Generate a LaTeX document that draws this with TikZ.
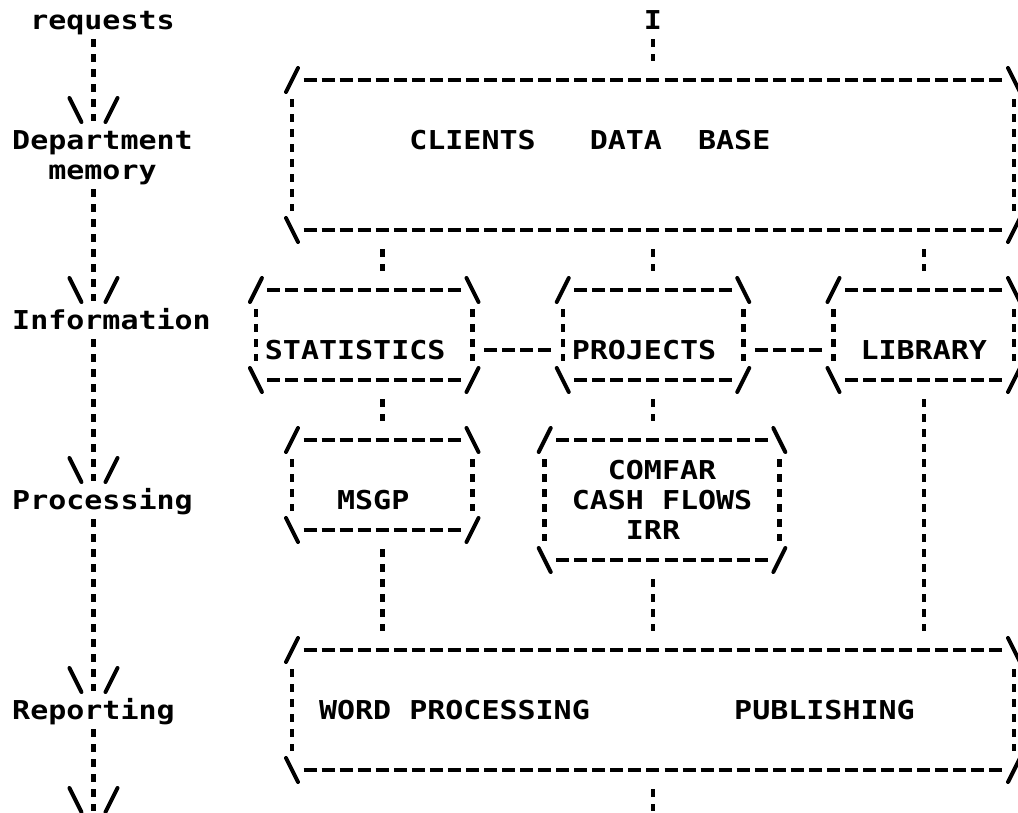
\documentclass[tikz,border=0pt]{standalone}
\usepackage{fontspec}
\newfontfamily\dotfont{DejaVu Sans Mono}[FakeStretch=1.1531]
\usetikzlibrary{calc}

% One character cell is 18.05pt wide and one printed line is 30pt high;
% (column, line) coordinates address cell centres, lines counted downwards.
\tikzset{
  ink/.style={draw=black},
  colonrun/.style={ink, line width=4.5pt, dash pattern=on 7.5pt off 7.5pt,
    shorten <=19pt, shorten >=19pt},
  dashrun/.style={ink, line width=3.8pt, dash pattern=on 13pt off 5.05pt,
    shorten <=11.5pt, shorten >=11.5pt},
  stroke/.style={ink, line width=4pt, line cap=round},
  txt/.style={font={\dotfont\bfseries\fontsize{26pt}{30pt}\selectfont},
    inner sep=0pt, text height=19pt, text depth=0pt, anchor=center},
  frame/.style 2 args={shape=rectangle, inner sep=0pt, outer sep=0pt,
    minimum width={#1*18.05pt}, minimum height={#2*30pt}},
  fwd/.pic={\draw[stroke] (-6pt,-12pt) -- (6pt,12pt);},
  bwd/.pic={\draw[stroke] (-6pt,12pt) -- (6pt,-12pt);},
  vhead/.pic={\draw[stroke] (-24.05pt,12pt) -- (-12.05pt,-12pt);
              \draw[stroke] (12.05pt,-12pt) -- (24.05pt,12pt);},
}

% dashed top and bottom, dotted sides, slanted corners
\newcommand\drawframe[1]{%
  \draw[dashrun] (#1.north west) -- (#1.north east);
  \draw[dashrun] (#1.south west) -- (#1.south east);
  \draw[colonrun] (#1.north west) -- (#1.south west);
  \draw[colonrun] (#1.north east) -- (#1.south east);
  \pic at (#1.north west) {fwd};
  \pic at (#1.north east) {bwd};
  \pic at (#1.south west) {bwd};
  \pic at (#1.south east) {fwd};
}

\begin{document}
\begin{tikzpicture}[x=18.05pt, y=-30pt]
\useasboundingbox (-1.1773,-0.6667) rectangle (55.2216,26.4);

\coordinate (spine) at (4,0);
\coordinate (c20) at (20,0);
\coordinate (c35) at (35,0);
\coordinate (c50) at (50,0);

% stages down the left margin
\node[txt] (req)  at (4.5,0)  {requests};
\node[txt] (dept) at (4.5,4)  {Department};
\node[txt] (mem)  at (4.5,5)  {memory};
\node[txt] (info) at (5,10)   {Information};
\node[txt] (proc) at (4.5,16) {Processing};
\node[txt] (rep)  at (4,23)   {Reporting};
\coordinate (out) at (4,27);

\draw[colonrun] (req.center -| spine) -- (dept.center -| spine);
\draw[colonrun] (mem.center -| spine) -- (info.center -| spine);
\draw[colonrun] (info.center -| spine) -- (proc.center -| spine);
\draw[colonrun] (proc.center -| spine) -- (rep.center -| spine);
\draw[colonrun] (rep.center -| spine) -- (out);
\pic at ($(dept.center -| spine)+(0,-1)$) {vhead};
\pic at ($(info.center -| spine)+(0,-1)$) {vhead};
\pic at ($(proc.center -| spine)+(0,-1)$) {vhead};
\pic at ($(rep.center -| spine)+(0,-1)$) {vhead};
\pic at ($(out)+(0,-1)$) {vhead};

% input and data base
\node[txt] (src) at (35,0) {I};
\node[frame={40}{5}] (clients) at (35,4.5) {};
\node[txt] (clientsT) at (31.5,4) {CLIENTS\phantom{XXX}DATA\phantom{XX}BASE};

% information sources
\node[frame={12}{3}] (stat) at (19,10.5) {};
\node[txt] (statT) at (18.5,11) {STATISTICS};
\node[frame={10}{3}] (proj) at (35,10.5) {};
\node[txt] (projT) at (34.5,11) {PROJECTS};
\node[frame={10}{3}] (lib) at (50,10.5) {};
\node[txt] (libT) at (50,11) {LIBRARY};

% processing tools
\node[frame={10}{3}] (msgp) at (20,15.5) {};
\node[txt] (msgpT) at (19.5,16) {MSGP};
\node[frame={13}{4}] (comfar) at (35.5,16) {};
\node[txt] (comfarA) at (35.5,15) {COMFAR};
\node[txt] (comfarB) at (35.5,16) {CASH\phantom{X}FLOWS};
\node[txt] (comfarC) at (35,17) {IRR};

% reporting
\node[frame={40}{4}] (report) at (35,23) {};
\node[txt] (reportT) at (33,23) {WORD\phantom{X}PROCESSING\phantom{XXXXXXXX}PUBLISHING};
\coordinate (sink) at (35,27);

\drawframe{clients}
\drawframe{stat}
\drawframe{proj}
\drawframe{lib}
\drawframe{msgp}
\drawframe{comfar}
\drawframe{report}

% links between the boxes
\draw[colonrun] (src.center) -- (clients.north);
\draw[colonrun] (clients.south -| c20) -- (stat.north -| c20);
\draw[colonrun] (clients.south) -- (proj.north);
\draw[colonrun] (clients.south -| c50) -- (lib.north);
\draw[dashrun] (stat.east |- statT.center) -- (proj.west |- statT.center);
\draw[dashrun] (proj.east |- statT.center) -- (lib.west |- statT.center);
\draw[colonrun] (stat.south -| c20) -- (msgp.north);
\draw[colonrun] (proj.south) -- (comfar.north -| c35);
\draw[colonrun] (lib.south) -- (report.north -| c50);
\draw[colonrun] (msgp.south) -- (report.north -| c20);
\draw[colonrun] (comfar.south -| c35) -- (report.north);
\draw[colonrun] (report.south) -- (sink);
\end{tikzpicture}
\end{document}
